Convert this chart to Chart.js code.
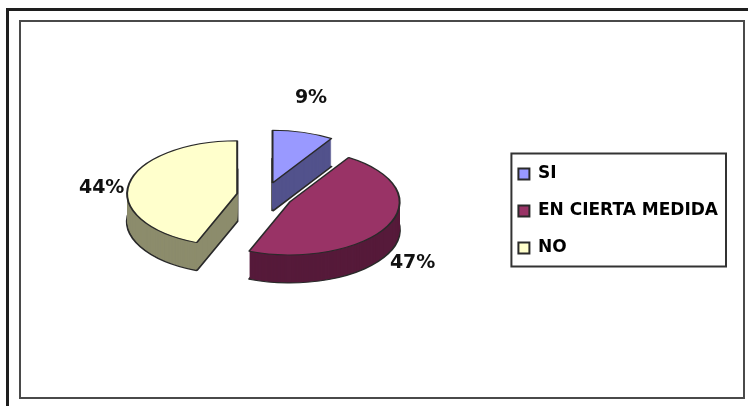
<!DOCTYPE html>
<html>
<head>
<meta charset="utf-8">
<script src="https://cdn.jsdelivr.net/npm/chart.js@4.4.1/dist/chart.umd.min.js"></script>
<style>
  html, body { margin: 0; padding: 0; background: #fff; }
  body { width: 748px; height: 406px; position: relative; overflow: hidden; }
  #outer { position: absolute; left: 6px; top: 8px; width: 760px; height: 420px; border: 3px solid #1e1e1e; }
  #inner { position: absolute; left: 19px; top: 20px; width: 722px; height: 375px; border: 2px solid #4a4a4a; }
  #chart { position: absolute; left: 0; top: 0; }
</style>
</head>
<body>
<div id="outer"></div>
<div id="inner"></div>
<canvas id="chart" width="748" height="406"></canvas>
<script>
// data
const categories = ["SI", "EN CIERTA MEDIDA", "NO"];
const percentages = [9, 47, 44];

// colours (top face / side wall)
const topColors = ["#9999ff", "#993366", "#ffffcc"];
const sideColors = ["#52528c", "#561a3a", "#8c8c6c"];

// fake 3d look
const tilt = 0.48;      // vertical squash of the disk
const depth = 28;       // thickness of the disk, px
const explode = 28;     // how far each slice is pulled out
const lift = -15;       // pie sits a bit higher than the legend
const labelGap = 28;
const labelTilt = 0.62; // labels sit on a rounder ellipse than the disk

const pie3d = {
  id: "pie3d",
  beforeDatasetDraw(chart, args) {
    const ctx = chart.ctx;
    const arcs = args.meta.data;
    const cy = arcs[0].y;

    const drawArc = (arc, dy, over) => {
      const mid = (arc.startAngle + arc.endAngle) / 2;
      const orig = arc.options;
      ctx.save();
      ctx.translate(Math.cos(mid) * explode, Math.sin(mid) * explode + dy);
      if (over) arc.options = Object.assign({}, orig, over);
      arc.draw(ctx);
      arc.options = orig;
      ctx.restore();
    };

    ctx.save();
    ctx.translate(0, cy + lift);
    ctx.scale(1, tilt);
    ctx.translate(0, -cy);
    // side walls first, then the top faces
    for (let d = depth; d > 0; d--) {
      arcs.forEach((arc, i) => drawArc(arc, d / tilt, {
        backgroundColor: sideColors[i],
        borderWidth: d === depth ? 2.5 : 0
      }));
    }
    arcs.forEach(arc => drawArc(arc, 0));
    ctx.restore();

    // percentage labels
    ctx.save();
    ctx.font = "bold 19px 'DejaVu Sans'";
    ctx.fillStyle = "#111";
    ctx.textAlign = "center";
    ctx.textBaseline = "middle";
    arcs.forEach((arc, i) => {
      const mid = (arc.startAngle + arc.endAngle) / 2;
      const r = arc.outerRadius + explode + labelGap;
      const x = arc.x + Math.cos(mid) * r;
      const y = arc.y + lift + Math.sin(mid) * r * labelTilt + depth * (1 + Math.sin(mid)) / 2;
      ctx.fillText(percentages[i] + "%", x, y);
    });
    ctx.restore();
    return false;
  },
  afterDraw(chart) {
    // frame around the legend
    const boxes = chart.legend.legendHitBoxes;
    if (!boxes || !boxes.length) return;
    const left = Math.min(...boxes.map(b => b.left)) - 7;
    const right = Math.max(...boxes.map(b => b.left + b.width)) + 8;
    const top = boxes[0].top - 12;
    const last = boxes[boxes.length - 1];
    const bottom = last.top + last.height + 10;
    const ctx = chart.ctx;
    ctx.save();
    ctx.strokeStyle = "#333";
    ctx.lineWidth = 2;
    ctx.strokeRect(left, top, right - left, bottom - top);
    ctx.restore();
  }
};

new Chart(document.getElementById("chart"), {
  type: "pie",
  data: {
    labels: categories,
    datasets: [
      {
        data: percentages,
        backgroundColor: topColors,
        borderColor: "#2a2a2a",
        borderWidth: 2,
        radius: 110,
        clip: false
      }
    ]
  },
  options: {
    responsive: false,
    animation: false,
    layout: { padding: { left: 31, right: 20, top: 30, bottom: 14 } },
    plugins: {
      tooltip: { enabled: false },
      legend: {
        position: "right",
        labels: {
          boxWidth: 11,
          boxHeight: 11,
          padding: 20,
          color: "#000",
          font: { family: "DejaVu Sans", weight: "bold", size: 17 }
        }
      }
    }
  },
  plugins: [pie3d]
});
</script>
</body>
</html>
